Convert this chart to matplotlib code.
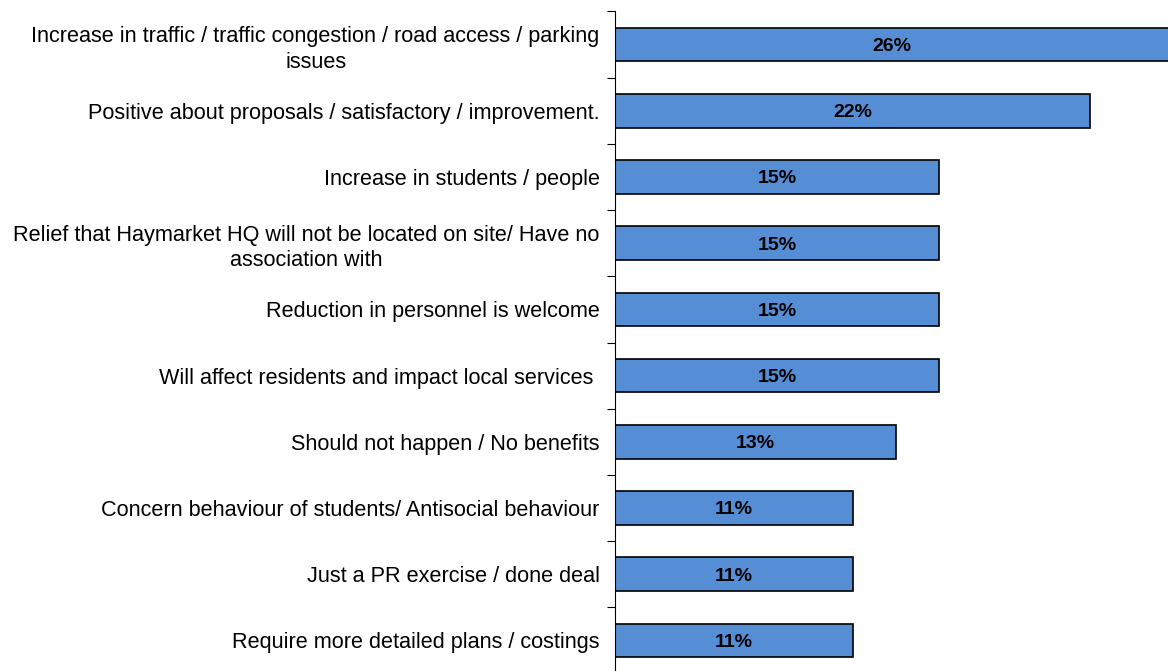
import matplotlib
matplotlib.use("Agg")
import matplotlib.pyplot as plt
import numpy as np

categories = [
    "Increase in traffic / traffic congestion / road access / parking\nissues",
    "Positive about proposals / satisfactory / improvement.",
    "Increase in students / people",
    "Relief that Haymarket HQ will not be located on site/ Have no\nassociation with",
    "Reduction in personnel is welcome",
    "Will affect residents and impact local services ",
    "Should not happen / No benefits",
    "Concern behaviour of students/ Antisocial behaviour",
    "Just a PR exercise / done deal",
    "Require more detailed plans / costings",
]
values = [26, 22, 15, 15, 15, 15, 13, 11, 11, 11]
value_labels = ["26%", "22%", "15%", "15%", "15%", "15%", "13%", "11%", "11%", "11%"]

plt.rcParams['font.family'] = ['Liberation Sans', 'DejaVu Sans']

W, H = 1168, 671
fig = plt.figure(figsize=(W / 100, H / 100), dpi=100)
ax = fig.add_axes([615 / W, 1 - 673.5 / H, 1 - 615 / W, (673.5 - 11.5) / H])

n = len(categories)
y = np.arange(n)
xmax = 25.6
ax.barh(y, values, height=0.51, color="#558ED5", edgecolor="black", linewidth=1.2, zorder=2)
ax.set_xlim(0, xmax)
ax.set_ylim(n - 0.5, -0.5)

for yi, v, lab in zip(y, values, value_labels):
    ax.text(min(v, xmax) / 2, yi, lab, ha="center", va="center_baseline",
            fontsize=14, fontweight="bold", color="black", zorder=3)

ax.set_yticks(y)
ax.set_yticklabels(categories, fontsize=15.6, multialignment="center", linespacing=1.3)
ax.tick_params(axis="y", which="major", length=0, pad=11)
ax.set_yticks(np.arange(-0.5, n, 1.0), minor=True)
ax.tick_params(axis="y", which="minor", length=6, width=0.8, direction="out", color="black")
ax.set_xticks([])

for s in ["top", "right", "bottom"]:
    ax.spines[s].set_visible(False)
ax.spines["left"].set_linewidth(0.8)

fig.savefig("out.png", dpi=100)
